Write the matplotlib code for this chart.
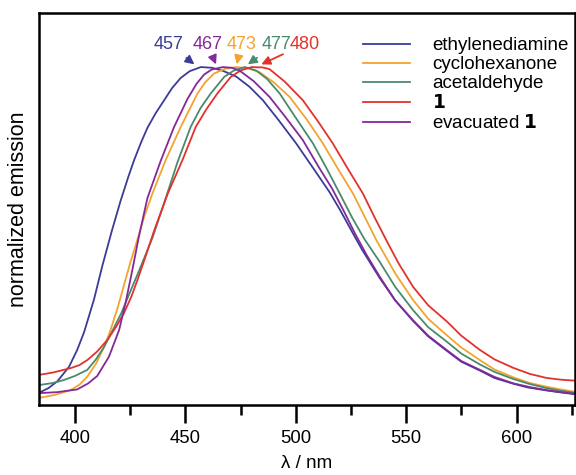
import numpy as np
import matplotlib.pyplot as plt
from matplotlib.ticker import MultipleLocator

plt.rcParams['font.family'] = ['Liberation Sans', 'DejaVu Sans']

# wavelength (nm) / normalized emission
wl_ethyl = [383.7, 388, 392, 397.3, 401, 404.1, 408.6, 412.4, 416.9, 420.7, 424, 426.8, 430,
            432.8, 436.5, 440.4, 444, 447.9, 452, 457, 462, 467, 473, 479, 485.1, 492, 500.2,
            508, 515.3, 520, 525.9, 530, 538, 545, 553.1, 560, 568.3, 575, 583.4, 590, 598.5,
            605, 613.6, 618, 626.4]
em_ethyl = [0.036, 0.05, 0.07, 0.113, 0.163, 0.215, 0.312, 0.412, 0.52, 0.605, 0.672, 0.725, 0.778,
            0.82, 0.863, 0.902, 0.938, 0.968, 0.988, 1.0, 0.998, 0.989, 0.972, 0.942, 0.902, 0.845, 0.774,
            0.700, 0.630, 0.578, 0.508, 0.460, 0.376, 0.31, 0.249, 0.203, 0.161, 0.128, 0.102, 0.08, 0.063,
            0.052, 0.043, 0.039, 0.032]

wl_cyclo = [383.7, 391, 398, 402, 405.6, 409.5, 413.2, 416, 419.2, 422, 425, 428.3, 431.5, 435.1,
            441.1, 447.9, 451.5, 455.5, 459, 463, 468, 473, 478, 483.6, 490, 497.2, 505, 512.3, 519,
            525.9, 531, 536.5, 545, 553.1, 560, 568.3, 575, 583.4, 590, 598.5, 606, 613.6, 620, 626.4]
em_cyclo = [0.021, 0.030, 0.044, 0.060, 0.084, 0.122, 0.172, 0.220, 0.285, 0.35, 0.42, 0.49, 0.56, 0.626,
            0.725, 0.823, 0.87, 0.922, 0.955, 0.981, 0.995, 1.0, 0.997, 0.985, 0.955, 0.912, 0.845, 0.774, 0.70,
            0.626, 0.56, 0.488, 0.39, 0.311, 0.255, 0.207, 0.17, 0.133, 0.105, 0.082, 0.065, 0.054, 0.046, 0.039]

wl_acet = [383.7, 390, 395, 400, 405.6, 409.5, 413.2, 417, 421, 425, 429.2, 432, 435.1, 440, 446.4,
           452.4, 457, 461.5, 467.6, 472, 477, 482, 487, 492.7, 500, 507.8, 514, 519.9, 525.5, 531.2,
           538, 545, 553.1, 560, 568.3, 575, 583.4, 590, 598.5, 606, 613.6, 620, 626.4]
em_acet = [0.059, 0.065, 0.074, 0.086, 0.104, 0.135, 0.172, 0.22, 0.272, 0.335, 0.400, 0.445, 0.495, 0.59, 0.718,
           0.823, 0.880, 0.922, 0.971, 0.99, 1.0, 0.99, 0.965, 0.922, 0.85, 0.774, 0.70, 0.626, 0.555, 0.49,
           0.424, 0.35, 0.281, 0.23, 0.188, 0.152, 0.120, 0.098, 0.077, 0.062, 0.050, 0.042, 0.036]

wl_one = [383.7, 390, 398, 402, 405.6, 410, 414.6, 418.5, 422.2, 425.5, 428.3, 432, 435.8, 442, 448.7,
          454.7, 459.5, 464.5, 470.6, 475, 480, 485, 488.1, 495, 503.2, 510, 516.8, 523.5, 530.4, 535.5,
          541, 546.5, 553.1, 560, 568.3, 575, 583.4, 590, 598.5, 606, 613.6, 620, 626.4]
em_one = [0.089, 0.096, 0.109, 0.118, 0.133, 0.158, 0.192, 0.23, 0.272, 0.32, 0.370, 0.44, 0.515, 0.625, 0.725,
          0.823, 0.875, 0.922, 0.971, 0.99, 1.0, 0.999, 0.994, 0.957, 0.902, 0.84, 0.774, 0.70, 0.626, 0.558,
          0.488, 0.42, 0.350, 0.295, 0.248, 0.205, 0.163, 0.135, 0.110, 0.092, 0.080, 0.075, 0.072]

wl_evac = [383.7, 392, 401, 406, 410.1, 415.4, 420, 423, 426, 429, 432.8, 438.8, 444.9, 450.9, 455,
           458.5, 462, 467, 471, 474.5, 481, 488.1, 495, 503.2, 510.7, 516.6, 522, 526.7, 532.1, 538,
           545, 553.1, 560, 568.3, 575, 583.4, 590, 598.5, 606, 613.6, 620, 626.4]
em_evac = [0.035, 0.038, 0.046, 0.064, 0.086, 0.143, 0.222, 0.305, 0.40, 0.50, 0.612, 0.722, 0.823, 0.905, 0.950,
           0.978, 0.993, 1.0, 0.998, 0.990, 0.958, 0.912, 0.855, 0.784, 0.701, 0.639, 0.571, 0.509, 0.444, 0.38,
           0.31, 0.251, 0.205, 0.163, 0.13, 0.104, 0.083, 0.064, 0.053, 0.044, 0.038, 0.033]

series = [
    (wl_ethyl, em_ethyl, '#3b3b98', 'ethylenediamine'),
    (wl_cyclo, em_cyclo, '#f3a42e', 'cyclohexanone'),
    (wl_acet, em_acet, '#4a8a6c', 'acetaldehyde'),
    (wl_one, em_one, '#e3322c', r'$\mathbf{1}$'),
    (wl_evac, em_evac, '#85289a', r'evacuated $\mathbf{1}$'),
]

# peak labels: text, text position, arrow tip
peak_labels = ['457', '467', '473', '477', '480']
peak_text_x = [442.5, 460.0, 475.3, 491.2, 504.0]
peak_tip_x = [454.1, 463.9, 473.3, 478.3, 484.4]
peak_colors = ['#3b3b98', '#85289a', '#f3a42e', '#4a8a6c', '#e3322c']

fig = plt.figure(figsize=(5.76, 4.75), dpi=100)
ax = fig.add_axes([0.0677, 0.1474, 0.9306, 0.8252])

for wl, em, c, lab in series:
    ax.plot(wl, em, color=c, lw=1.3, label=lab)

for lab, tx, px, c in zip(peak_labels, peak_text_x, peak_tip_x, peak_colors):
    ax.annotate(lab, xy=(px, 1.008), xytext=(tx, 1.068), color=c, fontsize=13,
                ha='center', va='center',
                arrowprops=dict(arrowstyle='-|>', color=c, lw=1.3, shrinkA=3, shrinkB=0,
                                mutation_scale=13))

ax.set_xlim(383.7, 626.5)
ax.set_ylim(0, 1.16)
ax.xaxis.set_major_locator(MultipleLocator(50))
ax.xaxis.set_minor_locator(MultipleLocator(25))
ax.tick_params(axis='x', which='major', length=13, width=1.8, labelsize=13.3, pad=5)
ax.tick_params(axis='x', which='minor', length=7, width=1.8)
ax.tick_params(axis='y', left=False, labelleft=False)
for s in ax.spines.values():
    s.set_linewidth(1.8)

ax.set_xlabel('\u03bb / nm', fontsize=13.5, labelpad=6)
ax.set_ylabel('normalized emission', fontsize=15.5, labelpad=7)

ax.legend(loc='upper left', bbox_to_anchor=(0.604, 0.938), frameon=False, fontsize=13.5,
          handlelength=2.5, handletextpad=1.2, labelspacing=0.1, borderpad=0, borderaxespad=0)

fig.savefig('out.png', dpi=100)
